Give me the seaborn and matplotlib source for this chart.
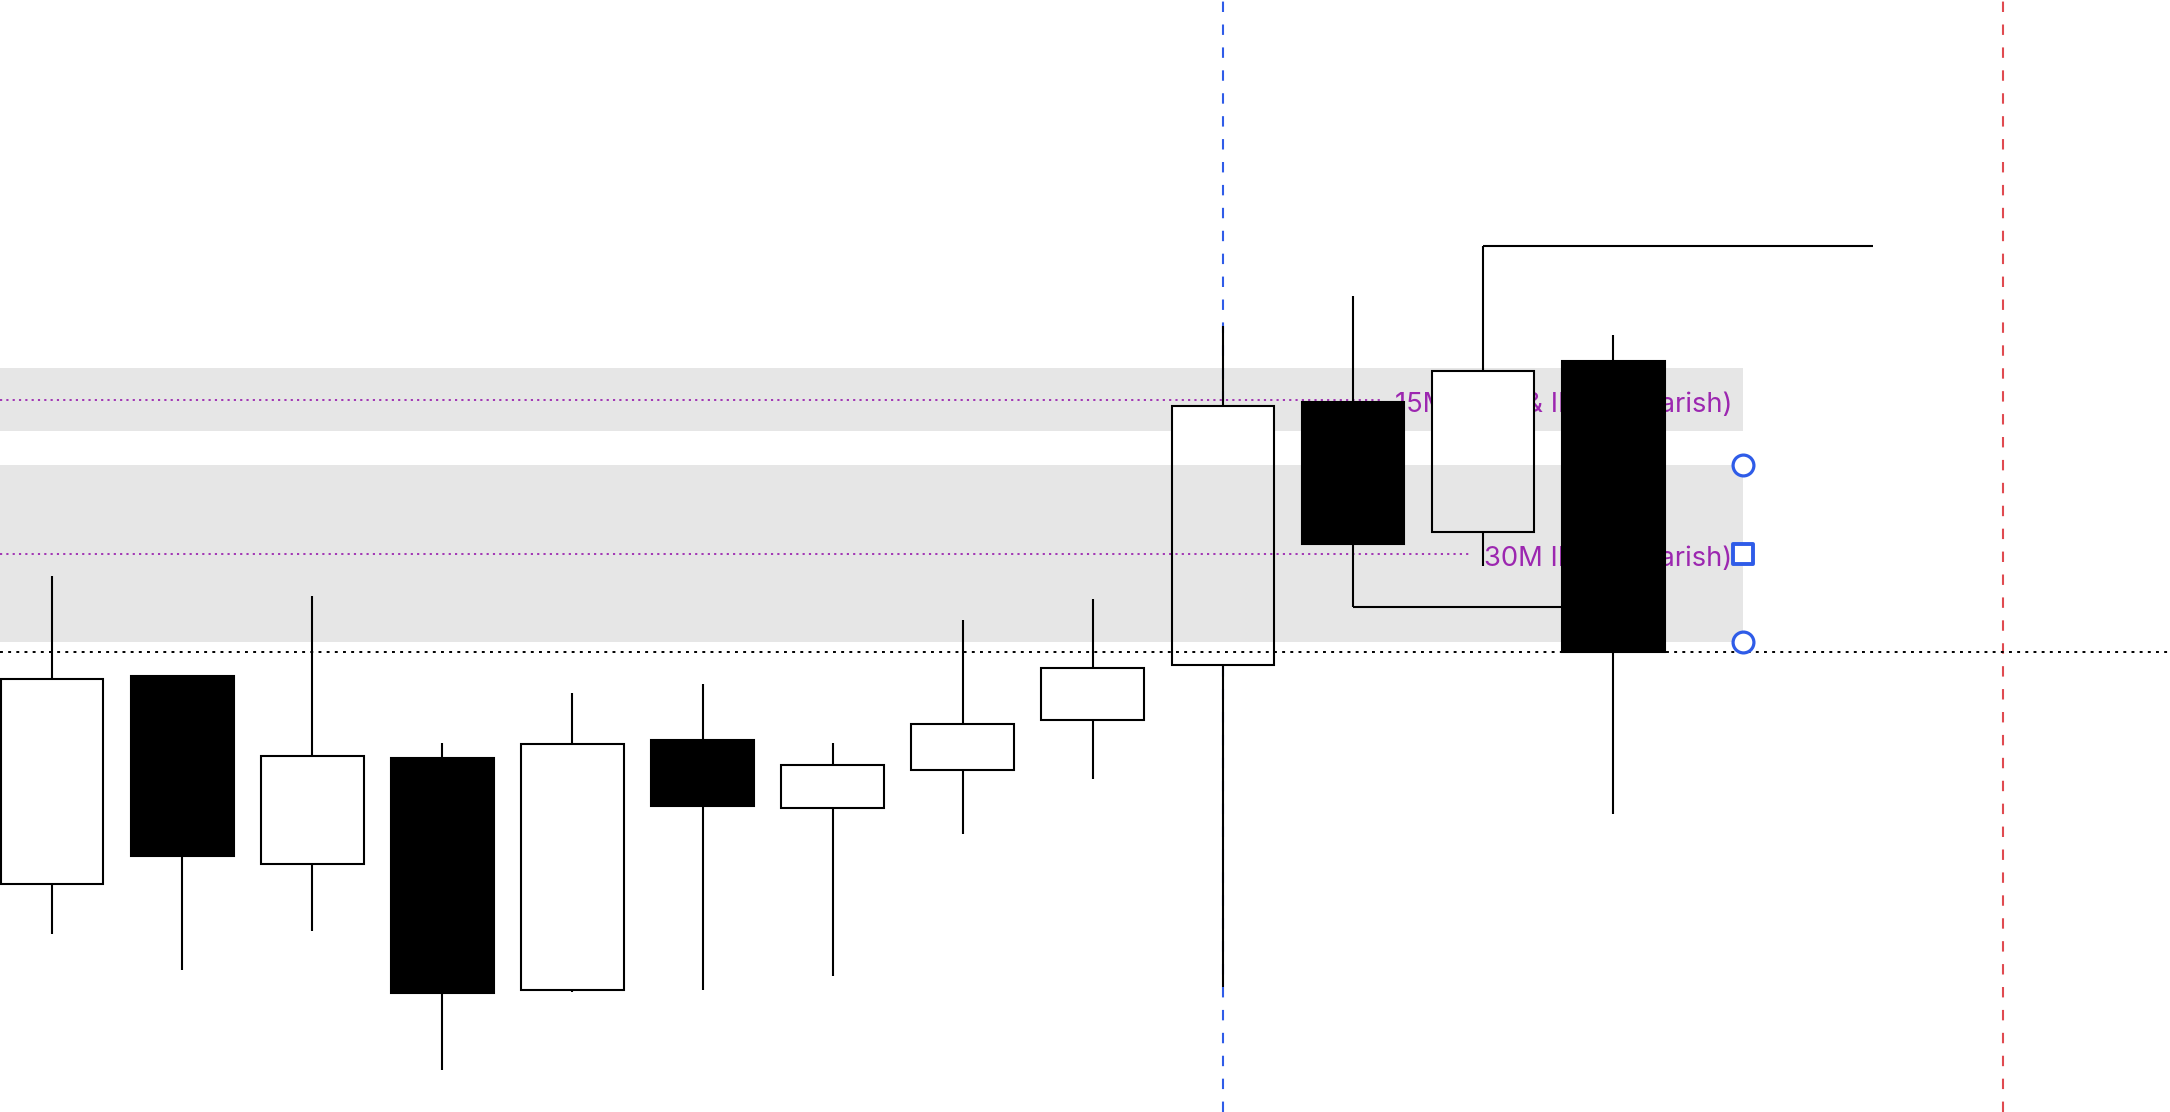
import numpy as np
import matplotlib.pyplot as plt
import pandas as pd
import seaborn as sns
from matplotlib.markers import MarkerStyle

sns.set_style('white')
plt.rcParams['font.family'] = ['Inter', 'DejaVu Sans']

# candles (price units, arbitrary scale)
opens  = [22.8, 43.6, 24.8, 35.4, 12.2, 37.2, 30.4, 34.2, 39.2, 44.7, 71.0, 58.0, 75.1]
highs  = [53.6, 43.6, 51.6, 36.9, 41.9, 42.8, 36.9, 49.2, 51.3, 78.6, 81.6, 86.6, 77.7]
lows   = [17.8, 14.2, 18.1, 4.2, 12.0, 12.2, 13.6, 27.8, 33.3, 12.5, 50.5, 54.6, 29.8]
closes = [43.3, 25.6, 35.6, 11.9, 36.8, 30.6, 34.7, 38.8, 44.4, 70.6, 56.8, 74.1, 46.0]

# zones (gray boxes with midline + label)
zone_labels = ['15M IFVG & IRT I (Bearish)', '30M IRT I (Bearish)']
zone_top = [74.4, 64.7]
zone_bottom = [68.1, 47.0]
zone_end = 13

level = 46.0          # black dotted level
vline_blue = 9
vline_red = 15
high_ray = (11, 14)   # from candle 11 high
low_ray = (10, 12)    # from candle 10 low

df = pd.DataFrame({'open': opens, 'high': highs, 'low': lows, 'close': closes})
df['i'] = np.arange(len(df))
df['up'] = df['close'] >= df['open']
df['top'] = df[['open', 'close']].max(axis=1)
df['bot'] = df[['open', 'close']].min(axis=1)

fig = plt.figure(figsize=(21.7, 11.12), dpi=100)
ax = fig.add_axes([0, 0, 1, 1])
ax.set_xlim(-0.4, 16.28)
ax.set_ylim(0, 111.2)
ax.axis('off')

gray = '#e6e6e6'
purple = '#9c27b0'
blue = '#2f5ce8'
red = '#e04a50'
w = 0.79

# zone 1 sits under the candles, zone 2 over the white bodies
ax.fill_between([-0.4, zone_end], zone_bottom[0], zone_top[0], color=gray, lw=0, zorder=0.5)
ax.fill_between([-0.4, zone_end], zone_bottom[1], zone_top[1], color=gray, lw=0, zorder=2)

ax.axvline(vline_blue, color=blue, lw=1.5, ls=(0, (5, 6)), zorder=0.6)
ax.axvline(vline_red, color=red, lw=1.5, ls=(0, (5, 6)), zorder=0.6)

texts = []
for k, lab in enumerate(zone_labels):
    mid = (zone_top[k] + zone_bottom[k]) / 2
    z = 0.7 if k == 0 else 2.5
    t = ax.text(zone_end - 0.085, mid - 1.25, lab, color=purple, fontsize=19.7,
                ha='right', va='baseline', zorder=z)
    texts.append((t, mid, z))

fig.canvas.draw()
inv = ax.transData.inverted()
for t, mid, z in texts:
    bb = t.get_window_extent()
    xend = inv.transform((bb.x0 - 12, 0))[0]
    ax.hlines(mid, -0.4, xend, color=purple, lw=1.3, ls=(0, (1.2, 2.3)), zorder=z)

ax.axhline(level, color='black', lw=1.4, ls=(0, (1.5, 2.7)), zorder=2.5)

up = df[df['up']]
dn = df[~df['up']]
ax.bar(up['i'], up['top'] - up['bot'], bottom=up['bot'], width=w, color='white', lw=0, zorder=1)
ax.bar(up['i'], up['top'] - up['bot'], bottom=up['bot'], width=w, facecolor='none',
       edgecolor='black', lw=1.5, zorder=3)
ax.bar(dn['i'], dn['top'] - dn['bot'], bottom=dn['bot'], width=w, color='black',
       edgecolor='black', lw=1.5, zorder=3)

uw = df[df['high'] > df['top']]
lw_ = df[df['low'] < df['bot']]
ax.vlines(uw['i'], uw['top'], uw['high'], color='black', lw=1.5, zorder=3)
ax.vlines(lw_['i'], lw_['low'], lw_['bot'], color='black', lw=1.5, zorder=3)

ax.hlines(highs[high_ray[0]], high_ray[0], high_ray[1], color='black', lw=1.5, zorder=2.9)
ax.hlines(lows[low_ray[0]], low_ray[0], low_ray[1], color='black', lw=1.5, zorder=2.9)

# selection handles of zone 2
hx = [zone_end, zone_end, zone_end]
hy = [zone_top[1], (zone_top[1] + zone_bottom[1]) / 2, zone_bottom[1]]
ax.plot([hx[0], hx[2]], [hy[0], hy[2]], ls='none', marker='o', ms=15, mfc='white',
        mec=blue, mew=2.3, zorder=4)
ax.plot([hx[1]], [hy[1]], ls='none', marker=MarkerStyle('s', joinstyle='round'), ms=14,
        mfc='white', mec=blue, mew=2.8, zorder=4)

fig.savefig('out.png', dpi=100)
